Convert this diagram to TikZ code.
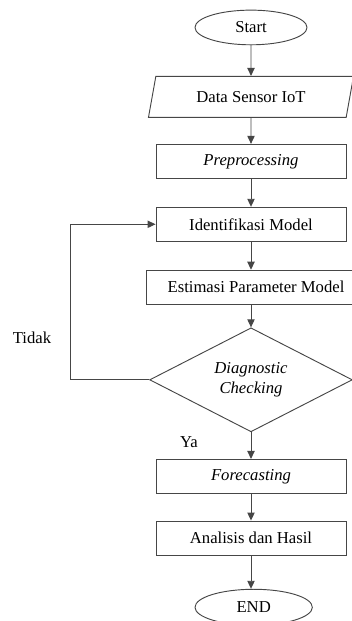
\documentclass[tikz,border=0pt]{standalone}
\usepackage{fontspec}
\setmainfont{Liberation Serif}
\usepackage{tikz}
\usetikzlibrary{shapes.geometric,arrows.meta,positioning}

\definecolor{lineclr}{RGB}{70,70,70}

\begin{document}
\begin{tikzpicture}[
            node distance=21pt,
            font=\fontsize{12.5}{14}\selectfont,
            base/.style={draw=lineclr, line width=0.7pt, align=center, inner sep=2pt},
            term/.style={base, ellipse, minimum width=84pt, minimum height=26pt},
            io/.style={base, trapezium, trapezium left angle=75, trapezium right angle=105, trapezium stretches=true, minimum width=154pt, minimum height=30.75pt},
            proc/.style={base, rectangle, minimum width=142.5pt, minimum height=25.5pt},
            decide/.style={base, diamond, aspect=2.2, minimum width=152pt, minimum height=78pt, inner sep=0pt},
            lbl/.style={inner sep=0pt},
            arrow/.style={-{Triangle[length=6pt,width=5.5pt]}, draw=lineclr, line width=0.7pt}
        ]
            \useasboundingbox (0,0) rectangle (264pt,-465.75pt);

            \node[term] (start) at (188.25pt,-20.6pt) {Start};
            \node[io, below=23pt of start] (data) {Data Sensor IoT};
            \node[proc, below=19.5pt of data] (prep) {\textit{Preprocessing}};
            \node[proc, below=of prep] (ident) {Identifikasi Model};
            \node[proc, below=of ident, minimum width=165pt, xshift=3.75pt] (estim) {Estimasi Parameter Model};
            \node[decide, below=17pt of ident.south |- estim.south] (diag) {\textit{Diagnostic}\\[1pt]\textit{Checking}};
            \node[proc, below=20pt of diag] (fore) {\textit{Forecasting}};
            \node[proc, below=20pt of fore] (hasil) {Analisis dan Hasil};
            \node[term, below=25pt of hasil, minimum width=88pt, minimum height=27pt, xshift=2pt] (end) {END};

            \node[lbl] (tidak) at (24pt,-253.5pt) {Tidak};
            \node[lbl] (ya) at (141.75pt,-331.5pt) {Ya};

            \draw[arrow] (start) -- (data);
            \draw[arrow] (data) -- (prep);
            \draw[arrow] (prep) -- (ident);
            \draw[arrow] (ident) -- (ident |- estim.north);
            \draw[arrow] (ident |- estim.south) -- (diag);
            \draw[arrow] (diag.west) -- ++(-59pt,0) |- (ident.west);
            \draw[arrow] (diag) -- (fore);
            \draw[arrow] (fore) -- (hasil);
            \draw[arrow] (hasil) -- (hasil |- end.north);
        \end{tikzpicture}
\end{document}
